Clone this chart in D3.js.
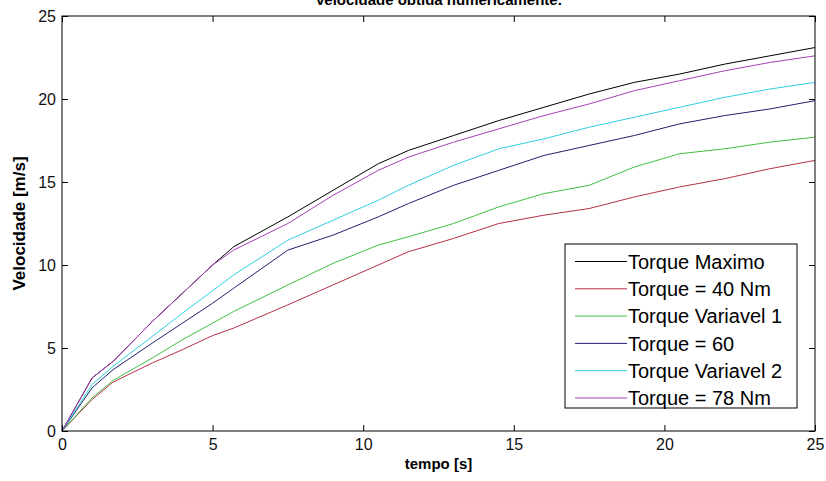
<!DOCTYPE html>
<html>
<head>
<meta charset="utf-8">
<script src="https://cdn.jsdelivr.net/npm/d3@7"></script>
<style>
  body { margin: 0; background: #fff; }
  svg text { font-family: "Liberation Sans", Arial, sans-serif; }
</style>
</head>
<body>
<svg width="826" height="481"></svg>
<script>
// time points (s)
var tempo = [0, 1, 1.7, 3, 4, 5, 5.7, 7.5, 9, 10.5, 11.5, 13, 14.5, 16, 17.5, 19, 20.5, 22, 23.5, 25];

// velocity (m/s) per case
var torqueMaximo  = [0, 3.2, 4.2, 6.6, 8.3, 10.0, 11.1, 12.9, 14.5, 16.1, 16.9, 17.8, 18.7, 19.5, 20.3, 21.0, 21.5, 22.1, 22.6, 23.1];
var torque40      = [0, 1.9, 2.95, 4.1, 4.9, 5.75, 6.2, 7.6, 8.8, 10.0, 10.8, 11.6, 12.5, 13.0, 13.4, 14.1, 14.7, 15.2, 15.8, 16.3];
var torqueVar1    = [0, 2.0, 3.05, 4.4, 5.5, 6.5, 7.2, 8.8, 10.1, 11.2, 11.7, 12.5, 13.5, 14.3, 14.8, 15.9, 16.7, 17.0, 17.4, 17.7];
var torque60      = [0, 2.6, 3.7, 5.3, 6.5, 7.7, 8.6, 10.9, 11.8, 12.9, 13.7, 14.8, 15.7, 16.6, 17.2, 17.8, 18.5, 19.0, 19.4, 19.9];
var torqueVar2    = [0, 2.8, 3.9, 5.7, 7.1, 8.45, 9.4, 11.5, 12.7, 13.9, 14.8, 16.0, 17.0, 17.6, 18.3, 18.9, 19.5, 20.1, 20.6, 21.0];
var torque78      = [0, 3.2, 4.2, 6.6, 8.3, 10.0, 10.9, 12.5, 14.2, 15.7, 16.5, 17.4, 18.2, 19.0, 19.7, 20.5, 21.1, 21.7, 22.2, 22.6];

var legendLabels = ["Torque Maximo", "Torque = 40 Nm", "Torque Variavel 1", "Torque = 60", "Torque Variavel 2", "Torque = 78 Nm"];
var seriesValues = [torqueMaximo, torque40, torqueVar1, torque60, torqueVar2, torque78];
var colors = ["#000000", "#b83048", "#40c040", "#20206e", "#30d0e0", "#a840b8"];

var xTicks = [0, 5, 10, 15, 20, 25];
var yTicks = [0, 5, 10, 15, 20, 25];

var svg = d3.select("svg"),
    plotL = 62, plotR = 815, plotT = 16, plotB = 431;

var x = d3.scaleLinear().domain([0, 25]).range([plotL, plotR]),
    y = d3.scaleLinear().domain([0, 25]).range([plotB, plotT]);

// title (partly cut off at the top)
svg.append("text")
    .attr("x", (plotL + plotR) / 2)
    .attr("y", 5)
    .attr("text-anchor", "middle")
    .attr("font-size", 15)
    .attr("font-weight", "bold")
    .text("Velocidade obtida numericamente.");

// lines
var line = d3.line()
    .x(function(d, i) { return x(tempo[i]); })
    .y(function(d) { return y(d); });

seriesValues.forEach(function(vals, k) {
  svg.append("path")
      .datum(vals)
      .attr("fill", "none")
      .attr("stroke", colors[k])
      .attr("stroke-width", 1)
      .attr("stroke-linejoin", "round")
      .attr("d", line);
});

// axes, matlab style: ticks inside on all four sides
var tickFont = 16;
svg.append("g")
    .attr("transform", "translate(0," + plotB + ")")
    .call(d3.axisBottom(x).tickValues(xTicks).tickSize(-6).tickPadding(8).tickFormat(d3.format("d")));
svg.append("g")
    .attr("transform", "translate(0," + plotT + ")")
    .call(d3.axisTop(x).tickValues(xTicks).tickSize(-6).tickFormat(""));
svg.append("g")
    .attr("transform", "translate(" + plotL + ",0)")
    .call(d3.axisLeft(y).tickValues(yTicks).tickSize(-6).tickPadding(6).tickFormat(d3.format("d")));
svg.append("g")
    .attr("transform", "translate(" + plotR + ",0)")
    .call(d3.axisRight(y).tickValues(yTicks).tickSize(-6).tickFormat(""));

svg.selectAll(".domain").remove();
svg.selectAll(".tick line").attr("stroke", "#000");
svg.selectAll(".tick text")
    .attr("font-size", tickFont)
    .attr("font-family", "'Liberation Sans', Arial, sans-serif")
    .attr("fill", "#111");

svg.append("rect")
    .attr("x", plotL).attr("y", plotT)
    .attr("width", plotR - plotL).attr("height", plotB - plotT)
    .attr("fill", "none")
    .attr("stroke", "#000")
    .attr("stroke-width", 1);

// axis labels
svg.append("text")
    .attr("x", (plotL + plotR) / 2)
    .attr("y", 469)
    .attr("text-anchor", "middle")
    .attr("font-size", 15)
    .attr("font-weight", "bold")
    .text("tempo [s]");

svg.append("text")
    .attr("transform", "translate(25," + ((plotT + plotB) / 2) + ") rotate(-90)")
    .attr("text-anchor", "middle")
    .attr("font-size", 17)
    .attr("font-weight", "bold")
    .text("Velocidade [m/s]");

// legend
var lg = svg.append("g").attr("transform", "translate(565,244)");
lg.append("rect")
    .attr("width", 232).attr("height", 164)
    .attr("fill", "#fff")
    .attr("stroke", "#000");

var rows = lg.selectAll("g.row")
    .data(legendLabels)
    .enter().append("g")
    .attr("transform", function(d, i) { return "translate(0," + (17.5 + i * 27.3) + ")"; });

rows.append("line")
    .attr("x1", 10).attr("x2", 62)
    .attr("stroke", function(d, i) { return colors[i]; });

rows.append("text")
    .attr("x", 63)
    .attr("dy", "0.36em")
    .attr("font-size", 20)
    .text(function(d) { return d; });
</script>
</body>
</html>
